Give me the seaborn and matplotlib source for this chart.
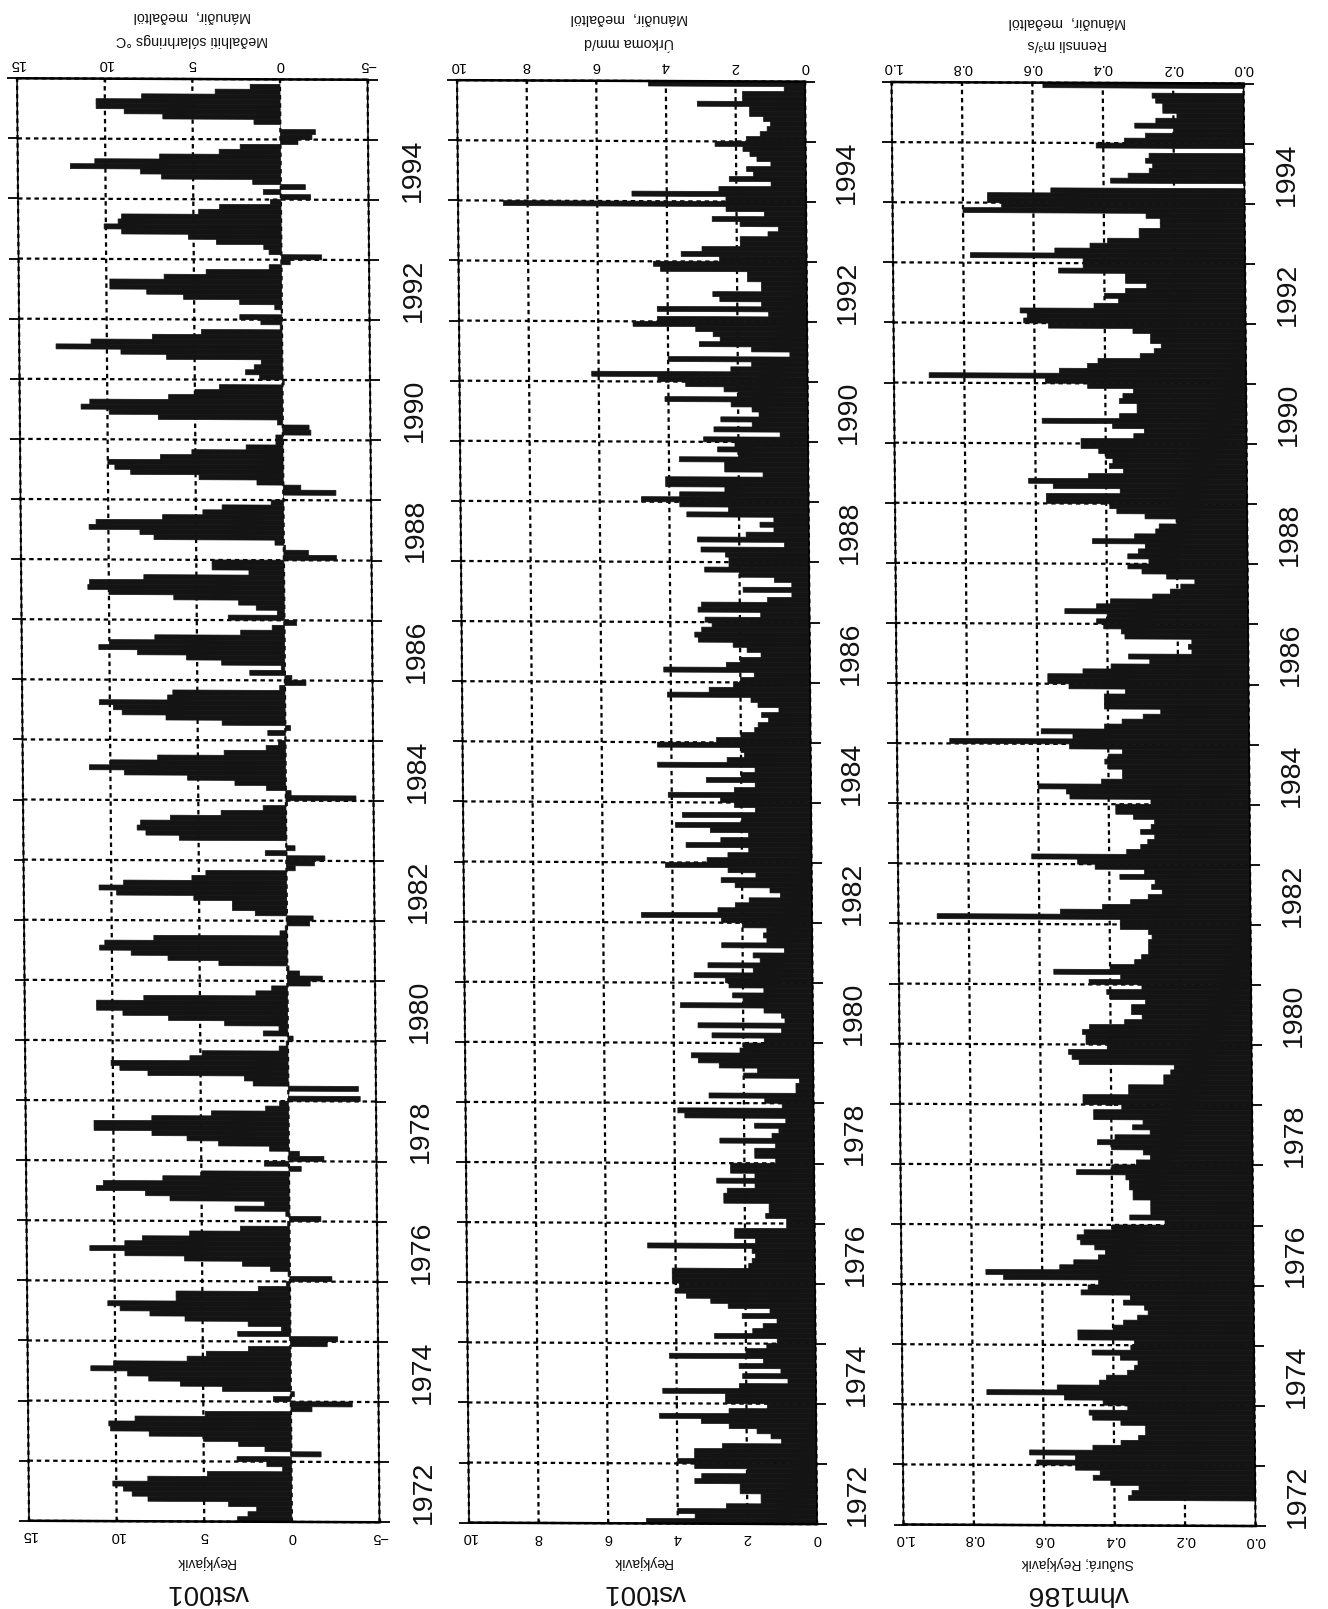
import matplotlib
matplotlib.use('Agg')
import numpy as np
import pandas as pd
import matplotlib.pyplot as plt
import seaborn as sns
from matplotlib.artist import Artist
from matplotlib.lines import Line2D
from matplotlib.patches import Patch
from matplotlib.text import Text
from matplotlib.transforms import Affine2D, blended_transform_factory

# Monthly means, one row per year (1972-1995), January first
years = np.arange(1972, 1996)
label_years = np.arange(1972, 1995, 2)

temp_c = [
    3.1, 2.5, 2.0, 3.6, 8.2, 9.1, 9.6, 10.2, 8.2, 4.8, 0.5, 1.4,
    3.1, -1.7, 1.5, 3.0, 5.0, 8.1, 10.3, 10.4, 8.9, 4.9, -1.2, -3.5,
    1.0, -0.2, 3.9, 6.3, 8.1, 9.3, 11.4, 10.1, 5.9, 4.8, 2.4, -2.1,
    -2.7, 3.0, 0.5, 2.4, 6.0, 8.0, 9.7, 10.4, 6.5, 6.5, 1.8, 0.2,
    -2.4, 0.1, 1.1, 2.7, 6.0, 9.4, 11.4, 9.4, 8.4, 5.7, 2.8, 0.1,
    -1.8, 0.2, 3.1, 1.4, 6.8, 8.2, 11.0, 10.6, 7.2, 5.0, -0.7, 1.4,
    -2.0, -0.6, 1.1, 4.0, 5.8, 7.8, 11.1, 11.1, 7.8, 4.4, 1.3, 0.5,
    -4.1, 0.0, -4.0, 2.0, 2.5, 8.0, 9.6, 10.1, 5.6, 4.9, 0.5, 0.1,
    -0.3, 1.4, 0.5, 3.6, 6.8, 9.4, 10.9, 10.9, 8.2, 1.8, 0.9, -1.3,
    -2.0, -0.7, -0.1, 3.9, 6.8, 8.9, 10.7, 10.4, 7.6, 0.4, 0.1, -1.3,
    -1.5, 1.8, 3.1, 3.1, 5.3, 9.7, 10.7, 9.3, 5.4, 4.6, -0.5, -1.6,
    -2.2, 1.2, -0.5, 0.0, 6.1, 8.0, 8.5, 8.3, 6.6, 3.7, 1.3, -0.1,
    -4.0, -0.3, 1.1, 2.9, 5.6, 9.2, 11.2, 10.0, 7.3, 3.5, 1.1, 0.4,
    0.0, 1.0, -0.3, 3.6, 6.8, 9.3, 9.8, 10.6, 6.7, 6.4, 0.3, -1.2,
    -0.4, 2.0, 0.2, 3.6, 5.6, 8.4, 10.6, 10.0, 7.4, 2.5, 0.7, -0.7,
    3.2, 0.4, 1.6, 2.6, 6.3, 10.0, 11.2, 11.1, 8.0, 2.0, 4.1, 4.1,
    -3.0, -1.4, -0.1, 0.5, 7.4, 8.2, 11.1, 10.7, 6.9, 4.6, 3.5, 0.7,
    0.0, -3.0, -1.0, 1.5, 4.8, 8.7, 9.6, 10.0, 7.0, 5.2, 2.1, 0.4,
    0.4, -1.6, -1.5, 0.3, 7.1, 9.9, 11.5, 11.0, 6.5, 5.0, 3.6, -0.1,
    1.3, 2.1, 1.6, 1.2, 6.6, 9.2, 12.9, 10.9, 7.4, 4.6, 0.1, 1.2,
    2.4, 0.0, 0.4, 2.4, 5.6, 7.7, 9.8, 9.8, 6.7, 4.3, 0.7, -0.5,
    -2.3, 0.7, 1.0, 3.7, 5.3, 9.1, 10.1, 9.3, 9.1, 4.7, 3.5, 0.6,
    -1.7, 1.0, -1.4, 1.6, 6.8, 8.0, 12.0, 10.6, 6.9, 3.5, 2.3, -1.0,
    -1.8, -2.0, 0.0, 1.5, 6.7, 8.9, 10.5, 10.5, 7.9, 3.7, 1.7, 0.0,
]

precip_mm = [
    4.9, 3.5, 4.0, 2.6, 1.6, 1.6, 2.2, 2.2, 3.5, 3.3, 2.0, 3.5,
    4.0, 3.5, 3.5, 2.7, 1.0, 1.3, 1.7, 2.5, 3.3, 4.5, 2.5, 1.4,
    2.6, 2.6, 4.4, 2.2, 0.8, 2.1, 1.0, 2.2, 1.5, 4.2, 2.0, 1.4,
    1.1, 2.9, 1.8, 1.5, 1.1, 2.1, 1.3, 2.5, 3.0, 3.7, 4.0, 3.9,
    4.1, 4.1, 4.1, 1.9, 1.8, 1.7, 1.8, 4.8, 1.7, 2.3, 2.3, 0.8,
    0.8, 1.4, 1.3, 1.3, 2.6, 2.6, 2.5, 1.7, 2.8, 1.7, 2.4, 2.4,
    1.1, 1.7, 1.7, 1.1, 2.7, 1.2, 1.0, 1.7, 0.8, 3.7, 3.9, 0.9,
    1.4, 3.0, 0.5, 0.5, 0.4, 2.0, 1.6, 2.7, 3.3, 3.5, 2.1, 2.0,
    1.4, 2.9, 0.9, 3.3, 0.8, 0.9, 1.4, 3.8, 2.0, 2.3, 1.4, 2.4,
    2.5, 3.4, 1.7, 3.0, 1.5, 1.7, 0.8, 2.6, 1.3, 1.4, 1.3, 2.0,
    2.6, 4.9, 2.7, 2.2, 1.8, 0.9, 1.2, 2.2, 2.6, 1.6, 2.4, 4.2,
    3.0, 2.4, 1.8, 3.6, 2.6, 1.8, 2.9, 3.9, 2.0, 3.7, 1.6, 2.2,
    2.6, 4.1, 2.2, 1.6, 3.0, 2.0, 1.6, 4.4, 2.4, 1.9, 2.0, 4.4,
    2.7, 2.0, 1.6, 1.5, 1.2, 1.4, 0.9, 1.5, 1.7, 4.1, 2.9, 2.2,
    2.0, 1.6, 4.2, 2.4, 2.0, 1.4, 1.8, 2.2, 3.2, 3.3, 3.1, 2.8,
    3.0, 1.4, 3.2, 3.1, 1.2, 0.5, 1.9, 0.5, 1.0, 2.0, 3.0, 2.3,
    2.3, 2.4, 3.1, 0.7, 3.2, 1.8, 1.0, 1.4, 1.0, 3.5, 2.3, 3.7,
    4.8, 3.7, 2.4, 4.1, 4.1, 1.3, 2.4, 2.4, 3.7, 2.0, 2.6, 2.1,
    3.0, 0.8, 2.7, 1.6, 2.5, 1.4, 1.6, 2.2, 4.1, 2.0, 2.4, 3.5,
    4.3, 6.2, 2.2, 1.6, 4.0, 0.5, 1.6, 3.1, 2.5, 2.7, 3.2, 5.0,
    4.3, 1.1, 4.3, 1.3, 2.5, 2.7, 1.3, 1.3, 1.7, 1.7, 4.2, 4.4,
    2.5, 3.6, 3.0, 1.9, 1.9, 1.1, 0.8, 1.9, 2.7, 1.2, 2.3, 8.7,
    2.3, 5.0, 2.5, 1.0, 2.2, 1.5, 1.7, 1.0, 1.4, 1.6, 1.8, 2.6,
    1.7, 1.3, 1.1, 1.0, 1.2, 1.6, 1.6, 3.1, 1.8, 1.8, 0.6, 4.5,
]

# nan = month missing from the gauge record
flow_m3s = [
    np.nan, np.nan, np.nan, np.nan, np.nan, 0.36, 0.35, 0.33, 0.41, 0.46, 0.44, 0.51,
    0.62, 0.51, 0.64, 0.46, 0.38, 0.33, 0.31, 0.31, 0.38, 0.46, 0.47, 0.36,
    0.43, 0.54, 0.76, 0.56, 0.44, 0.42, 0.36, 0.34, 0.33, 0.38, 0.46, 0.35,
    0.34, 0.50, 0.50, 0.40, 0.37, 0.33, 0.30, 0.31, 0.37, 0.35, 0.49, 0.47,
    0.44, 0.71, 0.76, 0.55, 0.51, 0.44, 0.42, 0.45, 0.49, 0.50, 0.48, 0.40,
    0.25, 0.35, 0.29, 0.29, 0.29, 0.34, 0.34, 0.35, 0.35, 0.36, 0.50, 0.40,
    0.33, 0.29, 0.31, 0.40, 0.44, 0.39, 0.29, 0.34, 0.31, 0.45, 0.45, 0.37,
    0.48, 0.48, 0.35, 0.35, 0.25, 0.25, 0.23, 0.22, 0.49, 0.51, 0.52, 0.41,
    0.47, 0.47, 0.48, 0.46, 0.36, 0.31, 0.34, 0.34, 0.30, 0.40, 0.41, 0.31,
    0.46, 0.37, 0.56, 0.40, 0.33, 0.31, 0.29, 0.29, 0.29, 0.28, 0.29, 0.37,
    0.37, 0.89, 0.54, 0.42, 0.34, 0.29, 0.25, 0.28, 0.27, 0.37, 0.30, 0.44,
    0.49, 0.62, 0.35, 0.31, 0.29, 0.27, 0.31, 0.28, 0.27, 0.33, 0.38, 0.38,
    0.28, 0.51, 0.52, 0.60, 0.42, 0.36, 0.36, 0.40, 0.41, 0.40, 0.36, 0.51,
    0.85, 0.50, 0.59, 0.41, 0.36, 0.30, 0.25, 0.41, 0.41, 0.41, 0.35, 0.51,
    0.57, 0.57, 0.47, 0.39, 0.28, 0.34, 0.16, 0.17, 0.16, 0.35, 0.36, 0.41,
    0.43, 0.40, 0.52, 0.43, 0.39, 0.27, 0.22, 0.19, 0.15, 0.23, 0.30, 0.34,
    0.28, 0.34, 0.31, 0.29, 0.44, 0.32, 0.26, 0.25, 0.20, 0.29, 0.37, 0.39,
    0.57, 0.57, 0.36, 0.55, 0.62, 0.45, 0.35, 0.39, 0.38, 0.40, 0.42, 0.47,
    0.47, 0.32, 0.29, 0.38, 0.58, 0.36, 0.31, 0.31, 0.36, 0.35, 0.32, 0.45,
    0.57, 0.90, 0.53, 0.45, 0.42, 0.30, 0.26, 0.24, 0.27, 0.27, 0.32, 0.56,
    0.63, 0.62, 0.64, 0.43, 0.36, 0.40, 0.34, 0.28, 0.34, 0.34, 0.53, 0.46,
    0.46, 0.78, 0.54, 0.44, 0.39, 0.30, 0.30, 0.24, 0.24, 0.28, 0.80, 0.69,
    0.73, 0.73, 0.55, np.nan, 0.38, 0.33, 0.27, 0.26, 0.28, 0.27, np.nan, 0.42,
    0.34, 0.28, 0.20, 0.31, 0.25, 0.19, 0.23, 0.23, 0.25, 0.26, np.nan, 0.57,
]

W, H = 1328, 1609
# the scan is slightly sheared
SHEAR_A, SHEAR_B = 0.0083, 0.0043

sns.set_theme(style='white')
plt.rcParams['font.family'] = ['Liberation Sans', 'DejaVu Sans']

fig = plt.figure(figsize=(W / 100, H / 100), dpi=100, facecolor='white')
shear = Affine2D(np.array([
    [1, -SHEAR_A, SHEAR_A * (H - 800)],
    [-SHEAR_B, 1, SHEAR_B * 660],
    [0, 0, 1],
]))

months = years[0] + (np.arange(len(temp_c)) + 0.5) / 12


def panel(values, left, right, xlim, xticks, xlabels, label_x):
    ax = fig.add_axes([left / W, 1 - 1523.5 / H, (right - left) / W, (1523.5 - 81) / H])
    df = pd.DataFrame({'time': months, 'value': values}).dropna()
    # thin edge in the fill colour closes the hairlines between months
    sns.barplot(data=df, x='value', y='time', orient='y', native_scale=True, width=1,
                color='#141414', saturation=1, errorbar=None, edgecolor='#141414', linewidth=0.5, ax=ax)
    ax.set_xlim(*xlim)
    ax.set_ylim(1972, 1996)
    ax.set_xlabel('')
    ax.set_ylabel('')
    ax.set_yticks(np.arange(1972, 1997))
    ax.set_yticklabels([])
    ax.set_xticks(xticks, xlabels)
    ax.tick_params(axis='y', which='major', left=True, right=True, length=7.5, width=1.3,
                   color='black', direction='out')
    ax.tick_params(axis='x', which='major', top=True, bottom=True, labeltop=True, labelbottom=True,
                   length=2, width=1, color='black', direction='in', labelrotation=180,
                   labelsize=10.5, labelcolor='black', pad=5.5)
    ax.set_axisbelow(True)
    ax.grid(True, axis='both', color='black', linewidth=1.6, linestyle=(0, (2, 1.7)))
    for side, spine in ax.spines.items():
        spine.set_visible(True)
        spine.set_color('black')
        spine.set_linewidth(1.8 if side in ('top', 'bottom') else 1.1)
    trans = blended_transform_factory(ax.transAxes, ax.transData)
    for yr in label_years:
        ax.text((label_x - left) / (right - left), yr + 0.5, str(yr), transform=trans, rotation=90,
                ha='center', va='center', fontsize=20.5, color='#111111')
    return ax


ax1 = panel(temp_c, 23, 373.5, (15, -5), [15, 10, 5, 0, -5], ['15', '10', '5', '0', '\u22125'], 418)
ax2 = panel(precip_mm, 463, 811, (10, 0), [10, 8, 6, 4, 2, 0], ['10', '8', '6', '4', '2', '0'], 852)
ax3 = panel(flow_m3s, 897.5, 1249.5, (1.0, 0.0), [1.0, 0.8, 0.6, 0.4, 0.2, 0.0],
            ['1.0', '0.8', '0.6', '0.4', '0.2', '0.0'], 1292)

# push everything in the axes through the shear
fig.canvas.draw()
for ax in (ax1, ax2, ax3):
    for obj in ax.findobj(lambda a: isinstance(a, (Line2D, Patch, Text))):
        obj.set_transform(Artist.get_transform(obj) + shear)
        obj.set_clip_on(False)


def label(x, y, text, size):
    fig.text(x / W, 1 - y / H, text, rotation=180, ha='center', va='center', fontsize=size, color='#111111')


label(192, 16, 'Mánuðir,  meðaltöl', 10.3)
label(192, 40, 'Meðalhiti sólarhrings °C', 10.3)
label(629, 18, 'Mánuðir,  meðaltöl', 10.3)
label(629, 42, 'Úrkoma mm/d', 10.3)
label(1067, 22, 'Mánuðir,  meðaltöl', 10.3)
label(1067, 44, 'Rennsli m³/s', 10.3)

label(205, 1562, 'Reykjavik', 10)
label(642, 1562, 'Reykjavik', 10)
label(1078, 1563, 'Suðurá; Reykjavik', 10)
label(208, 1592, 'vst001', 20)
label(645, 1592, 'vst001', 20)
label(1078, 1593, 'vhm186', 20.5)

fig.savefig('out.png', dpi=100, facecolor='white')
